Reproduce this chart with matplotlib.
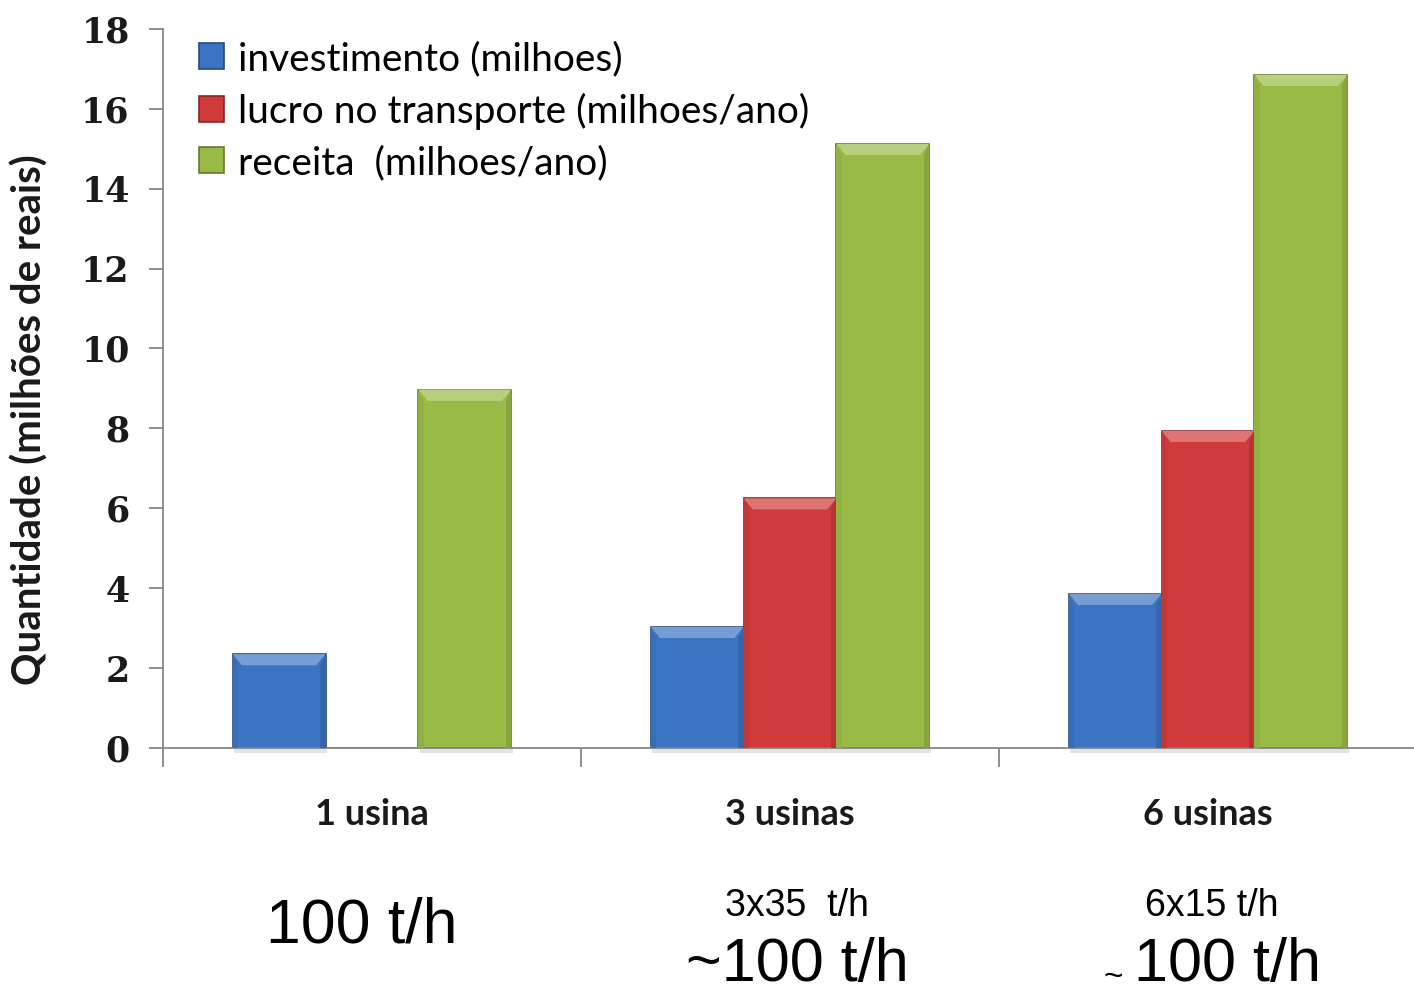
import matplotlib.pyplot as plt
from matplotlib.patches import Polygon
from matplotlib.colors import to_rgb
import numpy as np

# dados do grafico
categorias = ['1 usina', '3 usinas', '6 usinas']
series = ['investimento (milhoes)', 'lucro no transporte (milhoes/ano)', 'receita  (milhoes/ano)']
investimento = [2.35, 3.03, 3.86]
lucro = [0.0, 6.25, 7.94]
receita = [8.97, 15.12, 16.85]
cores = ['#3b74c2', '#cf3a3a', '#9aba46']

capacidade = ['100 t/h', '3x35  t/h', '6x15 t/h']
capacidade_total = ['', '~100 t/h', '100 t/h']


def clarear(cor, f):
    r, g, b = to_rgb(cor)
    return (r + (1 - r) * f, g + (1 - g) * f, b + (1 - b) * f)


def escurecer(cor, f):
    r, g, b = to_rgb(cor)
    return (r * (1 - f), g * (1 - f), b * (1 - f))


def chanfro(ax, barras, cor):
    # efeito de relevo no topo e nas laterais de cada barra
    for b in barras:
        h = b.get_height()
        if h <= 0:
            continue
        x0, w = b.get_x(), b.get_width()
        dy = min(0.28, h * 0.3)
        dx = w * 0.1
        topo = Polygon([(x0, h), (x0 + w, h), (x0 + w - dx, h - dy), (x0 + dx, h - dy)],
                       closed=True, facecolor=clarear(cor, 0.3), edgecolor='none', zorder=3)
        ax.add_patch(topo)
        dir_ = Polygon([(x0 + w, h), (x0 + w, 0), (x0 + w - dx * 0.6, 0), (x0 + w - dx * 0.6, h - dy)],
                       closed=True, facecolor=escurecer(cor, 0.12), edgecolor='none', zorder=3)
        ax.add_patch(dir_)
        esq = Polygon([(x0, h), (x0, 0), (x0 + dx * 0.6, 0), (x0 + dx * 0.6, h - dy)],
                      closed=True, facecolor=escurecer(cor, 0.05), edgecolor='none', zorder=3)
        ax.add_patch(esq)
        # sombra suave abaixo da barra
        ax.bar(x0 + w / 2 + 0.004, 0.12, bottom=-0.12, width=w, color='#e3e3e3',
               zorder=1, clip_on=False)


fig = plt.figure(figsize=(14.14, 9.96), dpi=100)
ax = fig.add_axes([0.1153, 0.249, 0.8868, 0.722])

x = np.arange(len(categorias))
w = 2 / 9
valores = [investimento, lucro, receita]
for i, (vals, cor, nome) in enumerate(zip(valores, cores, series)):
    barras = ax.bar(x + (i - 1) * w, vals, width=w, color=cor, label=nome,
                    edgecolor=escurecer(cor, 0.35), linewidth=1.2, zorder=2)
    chanfro(ax, barras, cor)

ax.set_xlim(-0.5, 2.5)
ax.set_ylim(0, 18)
ax.set_yticks(range(0, 19, 2))
ax.set_yticklabels([str(v) for v in range(0, 19, 2)],
                   fontdict={'family': 'DejaVu Serif', 'weight': 'bold', 'size': 25})
ax.tick_params(axis='y', length=10, width=1.3, color='#868686', pad=14, labelcolor='#1a1a1a')

ax.set_xticks([-0.5, 0.5, 1.5, 2.5])
ax.set_xticklabels([])
ax.tick_params(axis='x', which='major', length=14, width=1.3, color='#868686')
ax.set_xticks(x, minor=True)
ax.set_xticklabels(categorias, minor=True, family='Lato', weight='bold', size=26,
                   color='#1a1a1a')
ax.tick_params(axis='x', which='minor', length=0, pad=36)

for lado in ['top', 'right']:
    ax.spines[lado].set_visible(False)
for lado in ['left', 'bottom']:
    ax.spines[lado].set_color('#868686')
    ax.spines[lado].set_linewidth(1.3)

ax.set_ylabel('Quantidade (milhões de reais)', family='Lato', weight='bold', size=29,
              color='#1a1a1a', va='center')
ax.yaxis.set_label_coords(-0.106, 0.456)

ax.legend(loc='upper left', bbox_to_anchor=(0.016, 1.005), frameon=False,
          prop={'family': 'Lato', 'size': 28}, handlelength=0.65, handleheight=0.65,
          handletextpad=0.35, labelspacing=0.4, borderaxespad=0)

# capacidade das usinas abaixo de cada grupo
fig.text(362 / 1414, 1 - 942 / 996, capacidade[0], family='Liberation Sans', size=45,
         ha='center', va='baseline')
fig.text(797 / 1414, 1 - 916 / 996, capacidade[1], family='Liberation Sans', size=27,
         ha='center', va='baseline')
fig.text(797 / 1414, 1 - 981 / 996, capacidade_total[1], family='Liberation Sans', size=44,
         ha='center', va='baseline')
fig.text(1212 / 1414, 1 - 916 / 996, capacidade[2], family='Liberation Sans', size=27,
         ha='center', va='baseline')
fig.text(1113 / 1414, 1 - 986 / 996, '~', family='Liberation Sans', size=24,
         ha='center', va='baseline')
fig.text(1228 / 1414, 1 - 981 / 996, capacidade_total[2], family='Liberation Sans', size=44,
         ha='center', va='baseline')

fig.savefig('out.png', dpi=100)
